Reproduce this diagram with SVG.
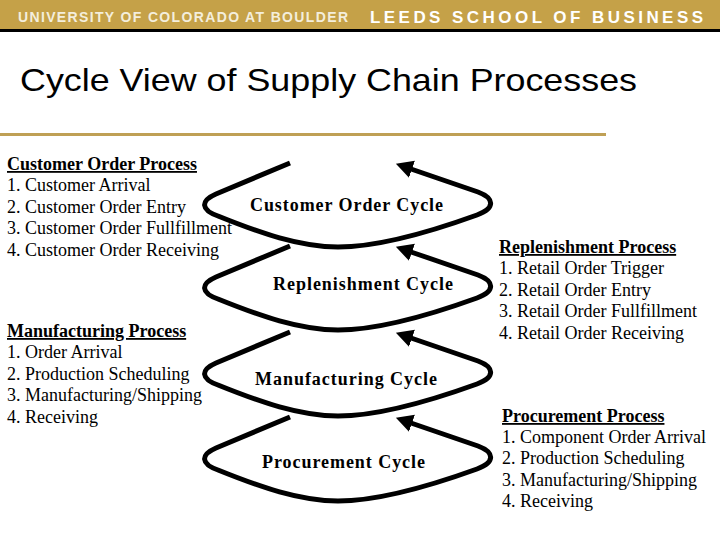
<svg xmlns="http://www.w3.org/2000/svg" width="720" height="540" viewBox="0 0 720 540">
<defs>
<marker id="ah" markerUnits="userSpaceOnUse" markerWidth="20" markerHeight="20" viewBox="0 0 20 20" refX="1" refY="9" orient="auto">
<path d="M0,0 L17,9 L0,18 z" fill="#000"/>
</marker>
<path id="loop" d="M290,163 L216,194 C200,201 201,210 218,216 C260,233 300,247 338,247 C380,247 430,232 477,215 C496,208 494,198 478,192 L411,169"/>
</defs>
<style>
.loop{fill:none;stroke:#000;stroke-width:5;marker-end:url(#ah)}
.lab{font-family:"Liberation Serif",serif;font-weight:bold;font-size:18px;fill:#000}
.txt{font-family:"Liberation Serif",serif;font-size:18px;fill:#000}
.hd{font-weight:bold;text-decoration:underline}
</style>
<rect x="0" y="0" width="720" height="30" fill="#C5A148"/>
<rect x="0" y="29" width="720" height="3" fill="#000"/>
<text x="18" y="22" font-family="'Liberation Sans Narrow','Liberation Sans',sans-serif" font-size="14" font-weight="bold" fill="#F4EEDC" textLength="330" lengthAdjust="spacing">UNIVERSITY OF COLORADO AT BOULDER</text>
<text x="370" y="23" font-family="'Liberation Sans',sans-serif" font-weight="bold" font-size="17" fill="#FFFFFF" textLength="333" lengthAdjust="spacing">LEEDS SCHOOL OF BUSINESS</text>
<text x="20" y="91" font-family="'Liberation Sans',sans-serif" font-size="32" fill="#000" textLength="617" lengthAdjust="spacingAndGlyphs">Cycle View of Supply Chain Processes</text>
<rect x="0" y="133" width="606" height="3" fill="#BFA055"/>
<g id="connectors">
<use href="#loop" class="loop"/>
<use href="#loop" class="loop" transform="translate(0,83)"/>
<use href="#loop" class="loop" transform="translate(0,169)"/>
<use href="#loop" class="loop" transform="translate(0,254)"/>
</g>
<g id="customer-order-cycle"><text class="lab" x="250" y="211" textLength="193" lengthAdjust="spacing">Customer Order Cycle</text></g>
<g id="replenishment-cycle"><text class="lab" x="273" y="290" textLength="180" lengthAdjust="spacing">Replenishment Cycle</text></g>
<g id="manufacturing-cycle"><text class="lab" x="255" y="385" textLength="182" lengthAdjust="spacing">Manufacturing Cycle</text></g>
<g id="procurement-cycle"><text class="lab" x="262" y="468" textLength="163" lengthAdjust="spacing">Procurement Cycle</text></g>
<g id="customer-order-process" class="txt">
<text x="7" y="170" class="hd">Customer Order Process</text>
<text x="7" y="191">1. Customer Arrival</text>
<text x="7" y="213">2. Customer Order Entry</text>
<text x="7" y="234">3. Customer Order Fullfillment</text>
<text x="7" y="256">4. Customer Order Receiving</text>
</g>
<g id="manufacturing-process" class="txt">
<text x="7" y="337" class="hd">Manufacturing Process</text>
<text x="7" y="358">1. Order Arrival</text>
<text x="7" y="380">2. Production Scheduling</text>
<text x="7" y="401">3. Manufacturing/Shipping</text>
<text x="7" y="423">4. Receiving</text>
</g>
<g id="replenishment-process" class="txt">
<text x="499" y="253" class="hd">Replenishment Process</text>
<text x="499" y="274">1. Retail Order Trigger</text>
<text x="499" y="296">2. Retail Order Entry</text>
<text x="499" y="317">3. Retail Order Fullfillment</text>
<text x="499" y="339">4. Retail Order Receiving</text>
</g>
<g id="procurement-process" class="txt">
<text x="502" y="422" class="hd">Procurement Process</text>
<text x="502" y="443">1. Component Order Arrival</text>
<text x="502" y="464">2. Production Scheduling</text>
<text x="502" y="486">3. Manufacturing/Shipping</text>
<text x="502" y="507">4. Receiving</text>
</g>
</svg>
